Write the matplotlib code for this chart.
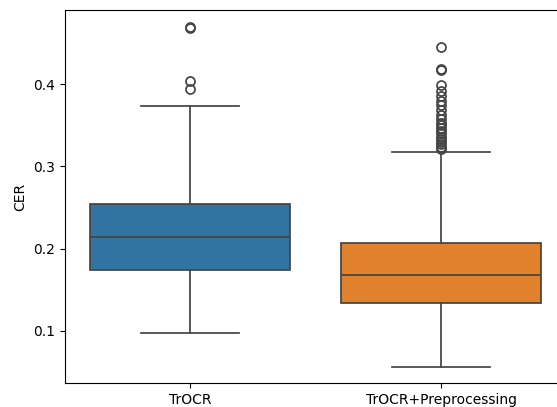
import matplotlib
matplotlib.use("Agg")
import matplotlib.pyplot as plt

# Box statistics
categories = ["TrOCR", "TrOCR+Preprocessing"]
q1 = [0.1745, 0.1345]
median = [0.2145, 0.1685]
q3 = [0.2545, 0.2070]
whisker_low = [0.098, 0.0558]
whisker_high = [0.373, 0.3176]
fliers = [
    [0.468, 0.469, 0.404, 0.394],
    [0.445, 0.418, 0.417, 0.399, 0.392, 0.386, 0.380, 0.374, 0.368, 0.362,
     0.357, 0.353, 0.350, 0.347, 0.343, 0.340, 0.336, 0.333, 0.330, 0.327,
     0.324, 0.321],
]
colors = ["#3274a1", "#e1812c"]

stats = []
for i in range(len(categories)):
    stats.append({
        "label": categories[i],
        "q1": q1[i], "med": median[i], "q3": q3[i],
        "whislo": whisker_low[i], "whishi": whisker_high[i],
        "fliers": fliers[i],
    })

fig = plt.figure(figsize=(5.57, 4.07), dpi=100)
ax = fig.add_axes([64.5 / 557, 24 / 407, 502 / 557, 373 / 407])

line = "#444444"
bp = ax.bxp(stats, positions=range(len(categories)), widths=0.8,
            capwidths=0.39,
            patch_artist=True,
            boxprops=dict(edgecolor=line, linewidth=1.25),
            medianprops=dict(color=line, linewidth=1.25),
            whiskerprops=dict(color=line, linewidth=1.25),
            capprops=dict(color=line, linewidth=1.25),
            flierprops=dict(marker="o", markerfacecolor="none",
                            markeredgecolor=line, markersize=6.5,
                            markeredgewidth=1.25))
for patch, c in zip(bp["boxes"], colors):
    patch.set_facecolor(c)

ax.set_xlim(-0.5, 1.5)
ax.set_ylim(0.0368, 0.49)
ax.set_yticks([0.1, 0.2, 0.3, 0.4])
ax.set_ylabel("CER")
ax.tick_params(labelsize=10)

fig.savefig("out.png", dpi=100)
